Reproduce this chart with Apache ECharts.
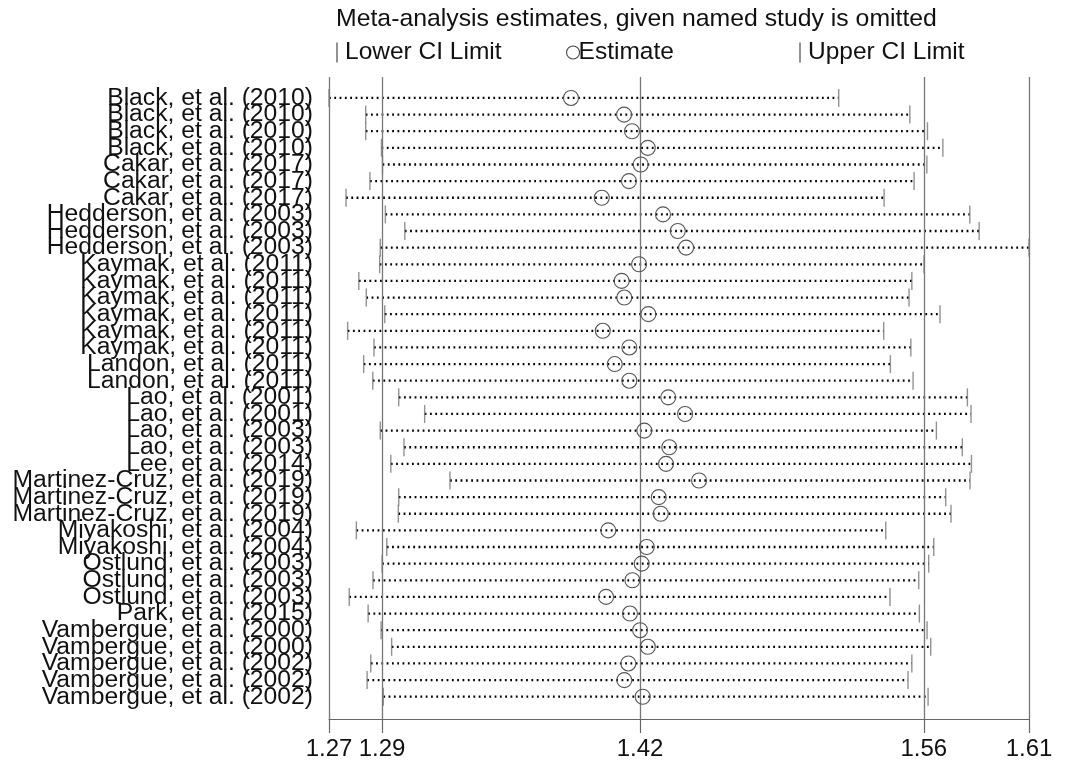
<!DOCTYPE html>
<html>
<head>
<meta charset="utf-8">
<title>Meta-analysis estimates</title>
<script src="https://cdn.jsdelivr.net/npm/echarts@6.0.0/dist/echarts.min.js"></script>
<style>
    html, body { margin: 0; padding: 0; background: #fff; }
    #chart { width: 1068px; height: 766px; }
</style>
</head>
<body>
<div id="chart"></div>
<script>
// 研究名称 (从上到下)
var studies = [
    'Black, et al. (2010)', 'Black, et al. (2010)', 'Black, et al. (2010)', 'Black, et al. (2010)',
    'Cakar, et al. (2017)', 'Cakar, et al. (2017)', 'Cakar, et al. (2017)',
    'Hedderson, et al. (2003)', 'Hedderson, et al. (2003)', 'Hedderson, et al. (2003)',
    'Kaymak, et al. (2011)', 'Kaymak, et al. (2011)', 'Kaymak, et al. (2011)',
    'Kaymak, et al. (2011)', 'Kaymak, et al. (2011)', 'Kaymak, et al. (2011)',
    'Landon, et al. (2011)', 'Landon, et al. (2011)',
    'Lao, et al. (2001)', 'Lao, et al. (2001)', 'Lao, et al. (2003)', 'Lao, et al. (2003)',
    'Lee, et al. (2014)',
    'Martinez-Cruz, et al. (2019)', 'Martinez-Cruz, et al. (2019)', 'Martinez-Cruz, et al. (2019)',
    'Miyakoshi, et al. (2004)', 'Miyakoshi, et al. (2004)',
    'Ostlund, et al. (2003)', 'Ostlund, et al. (2003)', 'Ostlund, et al. (2003)',
    'Park, et al. (2015)',
    'Vambergue, et al. (2000)', 'Vambergue, et al. (2000)',
    'Vambergue, et al. (2002)', 'Vambergue, et al. (2002)', 'Vambergue, et al. (2002)'
];

// 去掉该研究后的合并估计值
var lowerCI = [1.2665, 1.2846, 1.2846, 1.2924, 1.2929, 1.2867, 1.2749, 1.2943, 1.3039, 1.2918,
    1.2915, 1.2812, 1.2849, 1.2940, 1.2757, 1.2887, 1.2836, 1.2881, 1.3009, 1.3137,
    1.2918, 1.3035, 1.2970, 1.3262, 1.3009, 1.3007, 1.2800, 1.2950, 1.2927, 1.2882,
    1.2765, 1.2858, 1.2922, 1.2974, 1.2871, 1.2853, 1.2933];
var estimate = [1.3859, 1.4121, 1.4160, 1.4238, 1.4203, 1.4145, 1.4011, 1.4313, 1.4386, 1.4427,
    1.4195, 1.4109, 1.4122, 1.4241, 1.4016, 1.4147, 1.4075, 1.4147, 1.4339, 1.4422,
    1.4221, 1.4344, 1.4328, 1.4491, 1.4292, 1.4302, 1.4043, 1.4233, 1.4208, 1.4162,
    1.4032, 1.4150, 1.4200, 1.4238, 1.4142, 1.4122, 1.4213];
var upperCI = [1.5180, 1.5531, 1.5618, 1.5694, 1.5615, 1.5552, 1.5404, 1.5827, 1.5873, 1.6119,
    1.5601, 1.5541, 1.5527, 1.5680, 1.5402, 1.5536, 1.5435, 1.5547, 1.5815, 1.5833,
    1.5662, 1.5790, 1.5835, 1.5828, 1.5708, 1.5734, 1.5412, 1.5649, 1.5624, 1.5575,
    1.5433, 1.5578, 1.5616, 1.5634, 1.5541, 1.5522, 1.5621];

// x 轴刻度: 最小值, 合并下限, 合并估计, 合并上限, 最大值
var xTicks = [1.2665, 1.2927, 1.42, 1.56, 1.6119];
var xTickLabels = ['1.27', '1.29', '1.42', '1.56', '1.61'];

var fontName = '"Liberation Sans", Arial, Helvetica, sans-serif';
var gray = '#777';

var rows = studies.map(function (s, i) { return i + 1; });
var ciData = [], lowData = [], estData = [], upData = [], nameData = [];
for (var i = 0; i < studies.length; i++) {
    ciData.push([rows[i], lowerCI[i], upperCI[i]]);
    lowData.push([lowerCI[i], rows[i]]);
    estData.push([estimate[i], rows[i]]);
    upData.push([upperCI[i], rows[i]]);
    // 研究名称标签挂在 x 轴最小值处
    nameData.push([xTicks[0], rows[i]]);
}

var chart = echarts.init(document.getElementById('chart'));

var option = {
    animation: false,
    textStyle: { fontFamily: fontName },
    title: {
        text: 'Meta-analysis estimates, given named study is omitted',
        left: 331,
        top: 2,
        textStyle: { fontSize: 24.8, fontWeight: 'normal', color: '#111', fontFamily: fontName }
    },
    legend: [
        {
            data: ['Lower CI Limit'], left: 331, top: 35, itemWidth: 2, itemHeight: 20, itemGap: 0,
            textStyle: { fontSize: 24.5, color: '#111', padding: [0, 0, 0, 2] }
        },
        {
            data: ['Estimate'], left: 561, top: 35, itemWidth: 13, itemHeight: 13,
            itemStyle: { borderWidth: 1.1, borderColor: '#444' },
            textStyle: { fontSize: 24.5, color: '#111', padding: [0, 0, 0, -6] }
        },
        {
            data: ['Upper CI Limit'], left: 794, top: 35, itemWidth: 2, itemHeight: 20,
            textStyle: { fontSize: 24.5, color: '#111', padding: [0, 0, 0, 2] }
        }
    ],
    grid: { left: 329, right: 39, top: 77, bottom: 47, containLabel: false },
    xAxis: {
        type: 'value',
        min: xTicks[0],
        max: xTicks[xTicks.length - 1],
        axisLine: { show: true, onZero: false, lineStyle: { color: '#666', width: 1.2 } },
        axisTick: { show: true, customValues: xTicks, length: 14, lineStyle: { color: '#666', width: 1.2 } },
        axisLabel: {
            customValues: xTicks,
            showMinLabel: true,
            showMaxLabel: true,
            margin: 18,
            fontSize: 24,
            color: '#111',
            formatter: function (v) {
                var k = xTicks.indexOf(v);
                return k >= 0 ? xTickLabels[k] : v.toFixed(2);
            }
        },
        splitLine: { show: false }
    },
    yAxis: {
        type: 'value',
        inverse: true,
        min: -0.26,
        max: 38.34,
        axisLine: { show: false },
        axisTick: { show: false },
        splitLine: { show: false },
        axisLabel: { show: false }
    },
    series: [
        {
            // 点线: 置信区间
            type: 'custom',
            silent: true,
            encode: { x: [1, 2], y: 0 },
            data: ciData,
            z: 3,
            renderItem: function (params, api) {
                var y = api.value(0);
                var p1 = api.coord([api.value(1), y]);
                var p2 = api.coord([api.value(2), y]);
                return {
                    type: 'line',
                    shape: { x1: p1[0], y1: p1[1], x2: p2[0], y2: p2[1] },
                    style: { stroke: '#000', lineWidth: 2.3, lineDash: [1.8, 3.5] }
                };
            }
        },
        {
            // 左侧研究名称 (重叠也全部显示)
            type: 'scatter',
            silent: true,
            symbolSize: 0,
            clip: false,
            itemStyle: { color: 'rgba(0,0,0,0)', opacity: 1 },
            data: nameData,
            label: {
                show: true,
                position: 'left',
                distance: 16,
                fontSize: 24.7,
                color: '#111',
                opacity: 1,
                fontFamily: fontName,
                formatter: function (p) { return studies[p.dataIndex]; }
            },
            z: 2
        },
        {
            name: 'Lower CI Limit',
            type: 'scatter',
            symbol: 'rect',
            symbolSize: [1.4, 18],
            itemStyle: { color: gray },
            data: lowData,
            z: 4
        },
        {
            name: 'Estimate',
            type: 'scatter',
            symbol: 'circle',
            symbolSize: 15,
            itemStyle: { color: 'rgba(0,0,0,0)', borderColor: '#555', borderWidth: 1.1, opacity: 1 },
            data: estData,
            z: 5,
            markLine: {
                silent: true,
                symbol: 'none',
                precision: 4,
                label: { show: false },
                lineStyle: { color: gray, width: 1.3, type: 'solid' },
                data: xTicks.map(function (v) { return { xAxis: v }; })
            }
        },
        {
            name: 'Upper CI Limit',
            type: 'scatter',
            symbol: 'rect',
            symbolSize: [1.4, 18],
            itemStyle: { color: gray },
            data: upData,
            z: 4
        }
    ]
};

chart.setOption(option);
</script>
</body>
</html>
